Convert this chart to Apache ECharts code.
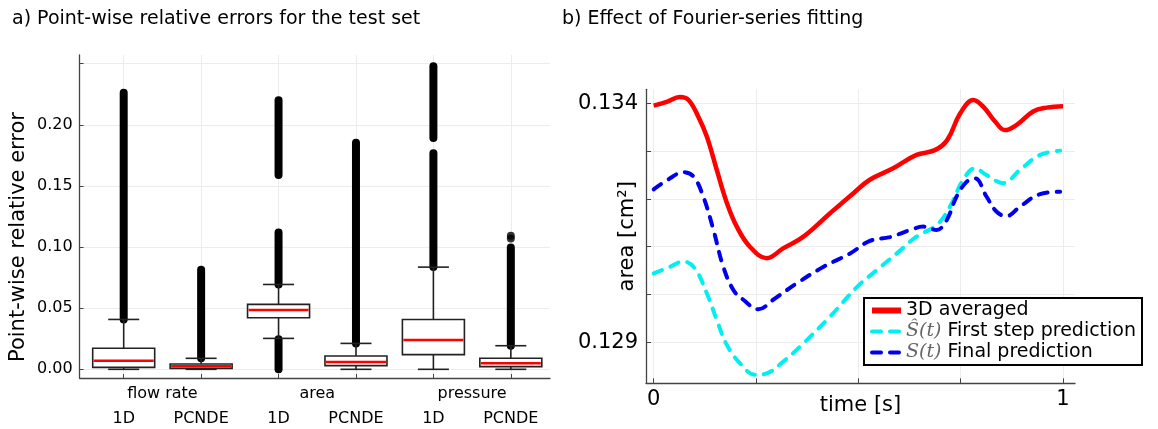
<!DOCTYPE html>
<html>
<head>
<meta charset="utf-8">
<script src="https://cdn.jsdelivr.net/npm/echarts@6/dist/echarts.min.js"></script>
<style>
html, body { margin: 0; padding: 0; background: #fff; }
#main { width: 1158px; height: 429px; }
</style>
</head>
<body>
<div id="main"></div>
<script>
// ---- a) boxplots of point-wise relative errors ----
const groups = ['flow rate', 'area', 'pressure']
const groupPos = [1.5, 3.5, 5.5]
const models = ['1D', 'PCNDE', '1D', 'PCNDE', '1D', 'PCNDE']
const boxPos = [1, 2, 3, 4, 5, 6]
const whiskerLow = [0.0, 0.0, 0.0253, 0.0, 0.0, 0.0]
const q1 = [0.0016, 0.0008, 0.0422, 0.0030, 0.0120, 0.0022]
const median = [0.0071, 0.0025, 0.0485, 0.0060, 0.0240, 0.0049]
const q3 = [0.0172, 0.0044, 0.0531, 0.0109, 0.0408, 0.0090]
const whiskerHigh = [0.0408, 0.0090, 0.0694, 0.0212, 0.0836, 0.0193]
// dense outlier columns: [box position, from, to]
const outlierRuns = [
    [1, 0.0408, 0.2263],
    [2, 0.0090, 0.0814],
    [3, 0.0000, 0.0245],
    [3, 0.0694, 0.1120],
    [3, 0.1590, 0.2200],
    [4, 0.0212, 0.1854],
    [5, 0.0836, 0.1767],
    [5, 0.1893, 0.2480],
    [6, 0.0193, 0.0997]
]
const outlierDots = [[6, 0.1070], [6, 0.1092]]
const errTicks = [0, 0.05, 0.10, 0.15, 0.20, 0.25]
const errLabels = [0, 0.05, 0.10, 0.15, 0.20]

// ---- b) Fourier-series fitting ----
const time3D = [0, 0.032, 0.064, 0.085, 0.109, 0.13, 0.154, 0.179, 0.203, 0.235, 0.276, 0.317, 0.366, 0.431, 0.488, 0.528, 0.585, 0.642, 0.687, 0.717, 0.749, 0.781, 0.805, 0.834, 0.858, 0.887, 0.927, 0.96, 1.0]
const area3D = [0.13395, 0.13403, 0.13413, 0.13407, 0.13372, 0.13330, 0.13261, 0.13191, 0.13142, 0.13100, 0.13076, 0.13097, 0.13121, 0.13170, 0.13212, 0.13240, 0.13264, 0.13292, 0.13302, 0.13323, 0.13379, 0.13407, 0.13393, 0.13362, 0.13344, 0.13355, 0.13383, 0.13391, 0.13394]
const timeFirst = [0, 0.04, 0.072, 0.1, 0.13, 0.154, 0.179, 0.211, 0.248, 0.276, 0.317, 0.366, 0.431, 0.497, 0.545, 0.594, 0.642, 0.691, 0.724, 0.756, 0.785, 0.813, 0.854, 0.895, 0.944, 0.993]
const areaFirst = [0.13044, 0.13058, 0.13069, 0.13055, 0.13002, 0.12947, 0.12894, 0.12856, 0.12832, 0.12835, 0.12860, 0.12898, 0.12954, 0.13016, 0.13051, 0.13086, 0.13121, 0.13145, 0.13184, 0.13240, 0.13264, 0.13250, 0.13233, 0.13261, 0.13292, 0.13301]
const timeFinal = [0, 0.04, 0.072, 0.097, 0.121, 0.146, 0.17, 0.195, 0.219, 0.256, 0.292, 0.349, 0.415, 0.48, 0.528, 0.577, 0.627, 0.659, 0.691, 0.716, 0.74, 0.765, 0.785, 0.813, 0.838, 0.862, 0.895, 0.944, 0.993]
const areaFinal = [0.13220, 0.13243, 0.13256, 0.13247, 0.13205, 0.13135, 0.13058, 0.13009, 0.12989, 0.12969, 0.12989, 0.13023, 0.13058, 0.13086, 0.13112, 0.13120, 0.13135, 0.13142, 0.13135, 0.13156, 0.13205, 0.13236, 0.13243, 0.13205, 0.13173, 0.13164, 0.13184, 0.13210, 0.13215]
const timeTicks = [0, 0.25, 0.5, 0.75, 1]
const timeLabels = [0, 1]
const areaTicks = [0.129, 0.130, 0.131, 0.132, 0.133, 0.134]
const areaLabels = [0.129, 0.134]

const seriesNames = ['3D averaged', 'Ŝ(t) First step prediction', 'S(t) Final prediction']

function zip(xs, ys) {
    return xs.map((x, i) => [x, ys[i]])
}

const axisColor = '#444'
const gridColor = '#ececec'
const font = 'DejaVu Sans'

/**
 * box + whiskers drawn through the axis scales
 */
function renderBox(params, api) {
    const x = api.value(0)
    const lo = api.coord([x, api.value(1)])
    const b1 = api.coord([x, api.value(2)])
    const md = api.coord([x, api.value(3)])
    const b3 = api.coord([x, api.value(4)])
    const hi = api.coord([x, api.value(5)])
    const cx = lo[0]
    const w = 62, cap = 15.5
    const ls = { stroke: '#222', lineWidth: 1.6, fill: null }
    return {
        type: 'group',
        children: [
            { type: 'line', shape: { x1: cx, y1: hi[1], x2: cx, y2: b3[1] }, style: ls },
            { type: 'line', shape: { x1: cx, y1: b1[1], x2: cx, y2: lo[1] }, style: ls },
            { type: 'line', shape: { x1: cx - cap, y1: hi[1], x2: cx + cap, y2: hi[1] }, style: ls },
            { type: 'line', shape: { x1: cx - cap, y1: lo[1], x2: cx + cap, y2: lo[1] }, style: ls },
            { type: 'rect', shape: { x: cx - w / 2, y: b3[1], width: w, height: b1[1] - b3[1] },
              style: { fill: '#fff', stroke: '#222', lineWidth: 1.6 } },
            { type: 'line', shape: { x1: cx - w / 2 + 1, y1: md[1], x2: cx + w / 2 - 1, y2: md[1] },
              style: { stroke: '#ff0000', lineWidth: 2.5 } }
        ]
    }
}

/**
 * dense runs of outliers, drawn as a thick round-capped stroke
 */
function renderRun(params, api) {
    const a = api.coord([api.value(0), api.value(1)])
    const b = api.coord([api.value(0), api.value(2)])
    return {
        type: 'line',
        shape: { x1: a[0], y1: a[1], x2: b[0], y2: b[1] },
        style: { stroke: '#000', lineWidth: 8, lineCap: 'round' }
    }
}

const myChart = echarts.init(document.getElementById('main'), null, { renderer: 'canvas' })

myChart.setOption({
    animation: false,
    textStyle: { fontFamily: font, color: '#000' },
    title: [
        { text: 'a) Point-wise relative errors for the test set', left: 12, top: 10, padding: 0,
          textStyle: { fontSize: 19, fontWeight: 'normal', fontFamily: font, color: '#000' } },
        { text: 'b) Effect of Fourier-series fitting', left: 562, top: 10, padding: 0,
          textStyle: { fontSize: 19, fontWeight: 'normal', fontFamily: font, color: '#000' } }
    ],
    grid: [
        { left: 79.6, top: 55, width: 470.4, height: 323, outerBoundsMode: 'none' },
        { left: 646, top: 89.3, width: 429, height: 294, outerBoundsMode: 'none' }
    ],
    legend: {
        data: [
            { name: seriesNames[0], lineStyle: { width: 6 } },
            { name: seriesNames[1], lineStyle: { width: 4 } },
            { name: seriesNames[2], lineStyle: { width: 4 } }
        ],
        left: 864,
        top: 298,
        orient: 'vertical',
        selectedMode: false,
        itemWidth: 29,
        itemHeight: 12,
        itemGap: 2,
        padding: [3, 6, 3, 5],
        borderColor: '#000',
        borderWidth: 2,
        backgroundColor: '#fff',
        itemStyle: { opacity: 0 },
        formatter: name => name.replace(/^(Ŝ|S)\(t\)/, '{m|$1(t)}'),
        textStyle: {
            fontSize: 19, fontFamily: font, color: '#000',
            rich: { m: { fontSize: 19, fontFamily: 'DejaVu Serif', fontStyle: 'italic', color: '#666' } }
        }
    },
    xAxis: [
        {
            gridIndex: 0, type: 'value', min: 0.4304, max: 6.506, position: 'bottom',
            axisLine: { onZero: false, lineStyle: { color: axisColor, width: 1.3 } },
            axisTick: { inside: true, length: 4, customValues: boxPos, lineStyle: { color: axisColor } },
            axisLabel: { customValues: boxPos, margin: 33, fontSize: 16, color: '#000',
                         formatter: v => models[Math.round(v) - 1] },
            splitLine: { show: true, lineStyle: { color: gridColor } }
        },
        {
            gridIndex: 0, type: 'value', min: 0.4304, max: 6.506, position: 'bottom', offset: 0,
            axisLine: { show: false, onZero: false },
            axisTick: { show: false, customValues: groupPos },
            axisLabel: { customValues: groupPos, margin: 8, fontSize: 16, color: '#000',
                         formatter: v => groups[Math.round((v - 1.5) / 2)] },
            splitLine: { show: false }
        },
        {
            gridIndex: 1, type: 'value', min: -0.0188, max: 1.0293,
            name: 'time [s]', nameLocation: 'middle', nameGap: 12, nameMoveOverlap: false,
            nameTextStyle: { fontSize: 21, color: '#000' },
            axisLine: { onZero: false, lineStyle: { color: axisColor, width: 1.3 } },
            axisTick: { inside: true, length: 5, customValues: timeTicks, lineStyle: { color: axisColor } },
            axisLabel: { customValues: timeLabels, margin: 6, fontSize: 21, color: '#000' },
            splitLine: { show: true, lineStyle: { color: gridColor } }
        }
    ],
    yAxis: [
        {
            gridIndex: 0, type: 'value', min: -0.0071, max: 0.2571,
            name: 'Point-wise relative error', nameLocation: 'middle', nameGap: 51, nameMoveOverlap: false,
            nameTextStyle: { fontSize: 21, color: '#000', padding: [0, 41, 0, 0] },
            axisLine: { show: true, onZero: false, lineStyle: { color: axisColor, width: 1.3 } },
            axisTick: { show: true, inside: true, length: 4, customValues: errTicks, lineStyle: { color: axisColor } },
            axisLabel: { customValues: errLabels, margin: 7, fontSize: 16, color: '#000',
                         formatter: v => v.toFixed(2) },
            splitLine: { show: true, lineStyle: { color: gridColor } }
        },
        {
            gridIndex: 1, type: 'value', min: 0.128142, max: 0.134293,
            name: 'area [cm²]', nameLocation: 'middle', nameGap: 8, nameMoveOverlap: false,
            nameTextStyle: { fontSize: 21, color: '#000' },
            axisLine: { show: true, onZero: false, lineStyle: { color: axisColor, width: 1.3 } },
            axisTick: { show: true, inside: true, length: 5, customValues: areaTicks, lineStyle: { color: axisColor } },
            axisLabel: { customValues: areaLabels, margin: 8, fontSize: 21, color: '#000',
                         formatter: v => v.toFixed(3) },
            splitLine: { show: true, lineStyle: { color: gridColor } }
        }
    ],
    series: [
        {
            name: 'outliers', type: 'custom', xAxisIndex: 0, yAxisIndex: 0,
            renderItem: renderRun, data: outlierRuns, z: 3
        },
        {
            name: 'outlierDots', type: 'scatter', xAxisIndex: 0, yAxisIndex: 0,
            symbolSize: 8, itemStyle: { color: '#000' }, data: outlierDots, z: 3
        },
        {
            name: 'boxes', type: 'custom', xAxisIndex: 0, yAxisIndex: 0,
            renderItem: renderBox, z: 4,
            data: boxPos.map((p, i) => [p, whiskerLow[i], q1[i], median[i], q3[i], whiskerHigh[i]])
        },
        {
            name: seriesNames[0], type: 'line', xAxisIndex: 2, yAxisIndex: 1,
            data: zip(time3D, area3D), smooth: 0.4, symbol: 'none', z: 5,
            color: '#ff0000',
            lineStyle: { color: '#ff0000', width: 4.5 }
        },
        {
            name: seriesNames[1], type: 'line', xAxisIndex: 2, yAxisIndex: 1,
            data: zip(timeFirst, areaFirst), smooth: 0.4, symbol: 'none', z: 4,
            color: '#00f0f0',
            lineStyle: { color: '#00f0f0', width: 4, type: [9, 9], cap: 'round' }
        },
        {
            name: seriesNames[2], type: 'line', xAxisIndex: 2, yAxisIndex: 1,
            data: zip(timeFinal, areaFinal), smooth: 0.4, symbol: 'none', z: 4,
            color: '#0000ee',
            lineStyle: { color: '#0000ee', width: 4, type: [9, 9], cap: 'round' }
        }
    ]
})
</script>
</body>
</html>
